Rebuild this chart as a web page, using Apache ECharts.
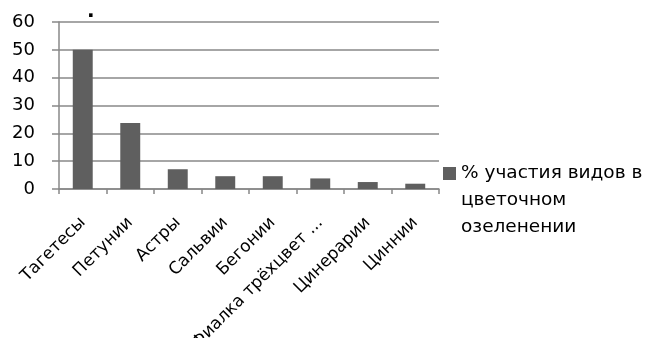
<!DOCTYPE html>
<html>
<head>
<meta charset="utf-8">
<script src="https://cdn.jsdelivr.net/npm/echarts@6/dist/echarts.min.js"></script>
<style>
  html, body { margin: 0; padding: 0; background: #fff; }
  #chart { width: 651px; height: 338px; }
</style>
</head>
<body>
<div id="chart"></div>
<script>
// Flower species share in urban flower-bed plantings
const categories = ['Тагетесы', 'Петунии', 'Астры', 'Сальвии', 'Бегонии', 'Фиалка трёхцвет ...', 'Цинерарии', 'Циннии'];
const shareValues = [50, 23.7, 7.1, 4.6, 4.6, 3.8, 2.5, 1.9];
const seriesName = '% участия видов в\nцветочном\nозеленении';
const yTicks = { min: 0, max: 60, interval: 10 };

const FONT = 'DejaVu Sans';
const chart = echarts.init(document.getElementById('chart'), null, { renderer: 'canvas' });

chart.setOption({
  animation: false,
  backgroundColor: '#ffffff',
  title: {
    text: '.',
    left: 82,
    top: -3,
    textStyle: { fontFamily: FONT, fontSize: 20, fontWeight: 'bold', color: '#000' }
  },
  grid: { left: 59, right: 212, top: 22, bottom: 149, containLabel: false, outerBoundsMode: 'none' },
  legend: {
    data: [seriesName],
    left: 438,
    top: 101,
    orient: 'vertical',
    itemWidth: 13,
    itemHeight: 13,
    itemGap: 0,
    icon: 'rect',
    // two leading blank lines keep the marker level with the first text line
    formatter: function (name) { return '\n\n' + name; },
    textStyle: {
      fontFamily: FONT,
      fontSize: 18.5,
      color: '#000',
      lineHeight: 27
    }
  },
  xAxis: {
    type: 'category',
    data: categories,
    axisLine: { show: true, lineStyle: { color: '#888', width: 1.5 } },
    axisTick: { show: true, length: 5, alignWithLabel: false, lineStyle: { color: '#888', width: 1.5 } },
    axisLabel: {
      rotate: 45,
      interval: 0,
      margin: 31,
      fontFamily: FONT,
      fontSize: 17,
      color: '#000'
    }
  },
  yAxis: {
    type: 'value',
    min: yTicks.min,
    max: yTicks.max,
    interval: yTicks.interval,
    axisLine: { show: true, lineStyle: { color: '#888', width: 1.5 } },
    axisTick: { show: true, length: 7, lineStyle: { color: '#888', width: 1.5 } },
    splitLine: { show: true, lineStyle: { color: '#888', width: 1.5 } },
    axisLabel: {
      margin: 24,
      fontFamily: FONT,
      fontSize: 18,
      color: '#000'
    }
  },
  series: [{
    name: seriesName,
    type: 'bar',
    data: shareValues,
    barWidth: '42%',
    itemStyle: { color: '#5f5f5f' }
  }]
});
</script>
</body>
</html>
